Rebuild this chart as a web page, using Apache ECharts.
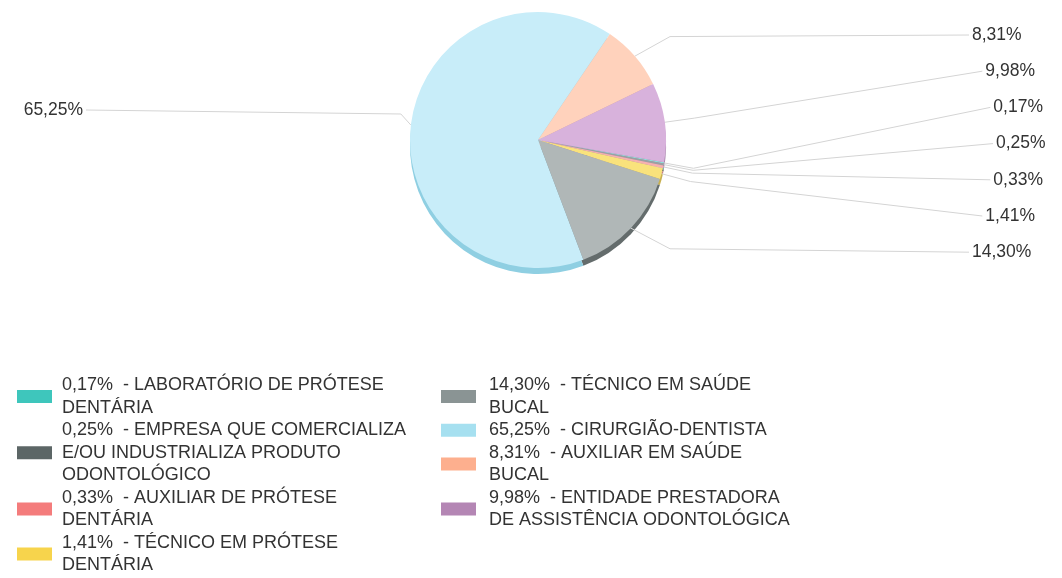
<!DOCTYPE html>
<html>
<head>
<meta charset="utf-8">
<style>
  html, body { margin: 0; padding: 0; background: #fff; }
  #chart { width: 1062px; height: 578px; }
</style>
<script src="https://cdn.jsdelivr.net/npm/echarts@6/dist/echarts.min.js"></script>
</head>
<body>
<div id="chart"></div>
<script>
// categories in legend order (line breaks as they wrap in the legend)
const categories = [
  'LABORATÓRIO DE PRÓTESE\nDENTÁRIA',
  'EMPRESA QUE COMERCIALIZA\nE/OU INDUSTRIALIZA PRODUTO\nODONTOLÓGICO',
  'AUXILIAR DE PRÓTESE\nDENTÁRIA',
  'TÉCNICO EM PRÓTESE\nDENTÁRIA',
  'TÉCNICO EM SAÚDE\nBUCAL',
  'CIRURGIÃO-DENTISTA',
  'AUXILIAR EM SAÚDE\nBUCAL',
  'ENTIDADE PRESTADORA\nDE ASSISTÊNCIA ODONTOLÓGICA'
]
const percents = [0.17, 0.25, 0.33, 1.41, 14.30, 65.25, 8.31, 9.98]

const legendColors = ['#3ec6bc', '#5c6666', '#f47c7c', '#f7d44c', '#8a9494', '#a6e0f0', '#fdaf8e', '#b486b4']
const faceColors = ['#8ee0da', '#9aa2a2', '#f6b0b0', '#f9e27c', '#b0b7b7', '#c8edf9', '#ffd2bc', '#d8b2dc']
const rimColors = ['#5fb0aa', '#5a6262', '#c88080', '#c8b050', '#646c6c', '#8fcfe2', '#d8a890', '#a684aa']

const fmt = v => v.toFixed(2).replace('.', ',')
const FONT = 'Liberation Sans, Arial, sans-serif'

const chart = echarts.init(document.getElementById('chart'))

const center = [538, 140]
const radius = 128
const startAngle = -10

// slice mid angles (ECharts convention, ccw from 3 o'clock)
const total = percents.reduce((a, b) => a + b, 0)
let acc = 0
const midAngles = percents.map(v => {
  const m = acc + v / 2
  acc += v
  return (startAngle - m / total * 360) * Math.PI / 180
})
// right-hand labels, top to bottom
const rightIdx = percents.map((v, i) => i)
  .filter(i => Math.cos(midAngles[i]) > 0)
  .sort((a, b) => Math.sin(midAngles[b]) - Math.sin(midAngles[a]))

const topY = 35
const stepY = 36.2
const midY = topY + stepY * (rightIdx.length - 1) / 2
const halfSpan = stepY * (rightIdx.length - 1) / 2

function edgePoint(i, extra) {
  const r = radius + extra
  return [center[0] + r * Math.cos(midAngles[i]), center[1] - r * Math.sin(midAngles[i])]
}

function legendFor(names, left, pad) {
  return {
    orient: 'vertical',
    left: left,
    top: 374,
    padding: 0,
    itemGap: 0,
    itemWidth: 35,
    itemHeight: 13,
    icon: 'rect',
    data: names.map(n => {
      const i = categories.indexOf(n)
      return { name: n, itemStyle: { color: legendColors[i] } }
    }),
    formatter: n => fmt(percents[categories.indexOf(n)]) + '%  - ' + n,
    textStyle: {
      fontFamily: FONT,
      fontSize: 18,
      lineHeight: 22.5,
      color: '#333',
      padding: [0, 0, 0, pad]
    }
  }
}

chart.setOption({
  animation: false,
  legend: [
    legendFor(categories.slice(0, 4), 17, 5),
    legendFor(categories.slice(4), 441, 8)
  ],
  series: [
    {
      // depth rim of the tilted pie
      type: 'pie',
      silent: true,
      center: [center[0], center[1] + 6],
      radius: radius,
      startAngle: startAngle,
      label: { show: false },
      labelLine: { show: false },
      z: 1,
      data: percents.map((v, i) => ({ name: ' ' + i, value: v, itemStyle: { color: rimColors[i] } }))
    },
    {
      type: 'pie',
      center: center,
      radius: radius,
      startAngle: startAngle,
      z: 2,
      itemStyle: { borderWidth: 0 },
      emphasis: { disabled: true },
      data: percents.map((v, i) => ({ name: categories[i], value: v, itemStyle: { color: faceColors[i] } })),
      label: {
        formatter: p => fmt(p.value) + '%',
        fontFamily: FONT,
        fontSize: 17.5,
        color: '#333'
      },
      labelLine: {
        length: 14,
        length2: 20,
        smooth: false,
        lineStyle: { color: '#d4d4d4', width: 1 }
      },
      labelLayout: function (params) {
        const i = params.dataIndex
        const r = rightIdx.indexOf(i)
        if (r >= 0) {
          const y = topY + stepY * r
          const t = (y - midY) / halfSpan
          const x = 972 + 24 * (1 - t * t)
          const p1 = edgePoint(i, 30)
          const pts = [edgePoint(i, 0), [Math.max(p1[0], 670), p1[1]], [x - 3, y]]
          return { x: x, y: y, align: 'left', verticalAlign: 'middle', labelLinePoints: pts }
        }
        const y = 110
        const p0 = edgePoint(i, 0)
        const pts = [p0, [p0[0] - 10, y + 4], [86, y]]
        return { x: 83, y: y, align: 'right', verticalAlign: 'middle', labelLinePoints: pts }
      }
    }
  ]
})
</script>
</body>
</html>
